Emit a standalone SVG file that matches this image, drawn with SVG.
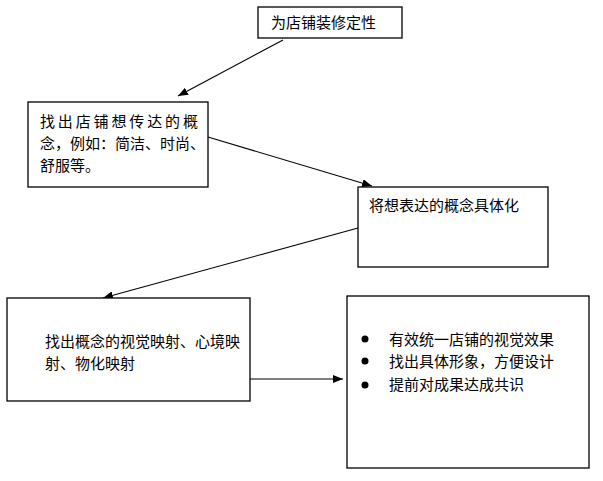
<svg xmlns="http://www.w3.org/2000/svg" width="603" height="481" viewBox="0 0 603 481">
<style>
.box{fill:#fff;stroke:#000;stroke-width:1.3}
.t{font-family:"Noto Sans CJK SC","Noto Sans CJK JP",sans-serif;font-size:15px;fill:#000}
.c{stroke:#000;stroke-width:1.1;fill:none;marker-end:url(#ah)}
</style>
<defs>
<marker id="ah" viewBox="0 0 10 8" refX="10" refY="4" markerWidth="10" markerHeight="8" markerUnits="userSpaceOnUse" orient="auto">
<path d="M0,0 L10,4 L0,8 Z" fill="#000"/>
</marker>
</defs>
<rect width="603" height="481" fill="#fff"/>
<g id="connectors">
<line class="c" x1="283" y1="40" x2="178" y2="96"/>
<line class="c" x1="208" y1="137" x2="372" y2="186"/>
<line class="c" x1="358" y1="228" x2="103" y2="298"/>
<line class="c" x1="250" y1="379" x2="343" y2="379"/>
</g>
<g id="n1">
<rect class="box" x="258" y="7" width="144" height="31"/>
<text class="t" x="271" y="28">为店铺装修定性</text>
</g>
<g id="n2">
<rect class="box" x="28" y="102" width="180" height="85"/>
<text class="t" x="40" y="127" textLength="158" lengthAdjust="spacing">找出店铺想传达的概</text>
<text class="t" x="40" y="149">念，例如：简洁、时尚、</text>
<text class="t" x="40" y="171">舒服等。</text>
</g>
<g id="n3">
<rect class="box" x="358" y="187" width="190" height="80"/>
<text class="t" x="369" y="211">将想表达的概念具体化</text>
</g>
<g id="n4">
<rect class="box" x="7" y="298" width="243" height="103"/>
<text class="t" x="45" y="347">找出概念的视觉映射、心境映</text>
<text class="t" x="45" y="369">射、物化映射</text>
</g>
<g id="n5">
<rect class="box" x="347" y="296" width="242" height="172"/>
<circle cx="365" cy="339" r="3.5"/>
<circle cx="365" cy="361" r="3.5"/>
<circle cx="365" cy="385" r="3.5"/>
<text class="t" x="389" y="345">有效统一店铺的视觉效果</text>
<text class="t" x="389" y="367">找出具体形象，方便设计</text>
<text class="t" x="389" y="390">提前对成果达成共识</text>
</g>
</svg>
